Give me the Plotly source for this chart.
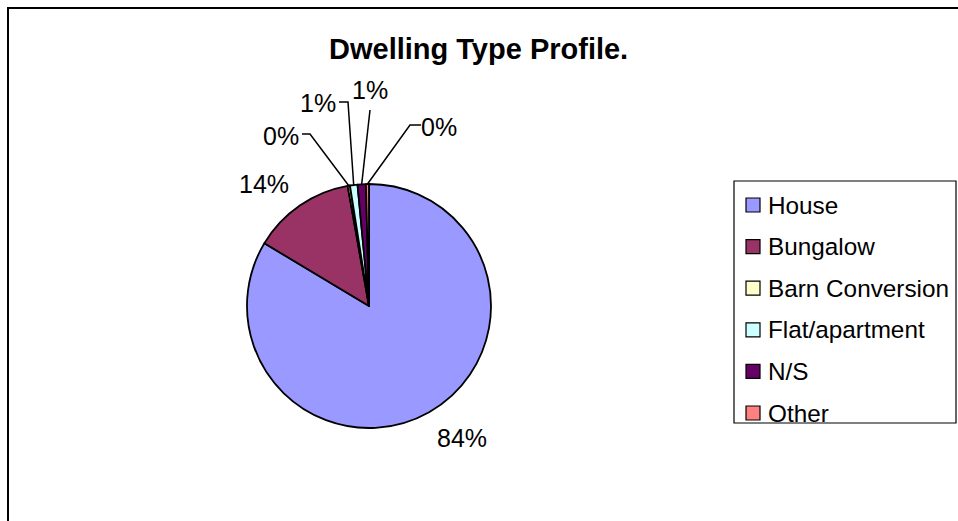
import math
import plotly.graph_objects as go

# Dwelling types and respondent counts
categories = ["House", "Bungalow", "Barn Conversion", "Flat/apartment", "N/S", "Other"]
counts = [836, 136, 3, 10, 11, 4]
colors = ["#9999FF", "#993366", "#FFFFCC", "#CCFFFF", "#660066", "#FF8080"]

TITLE = "Dwelling Type Profile."
FONT = "Liberation Sans, Arial, sans-serif"

# Canvas and pie geometry (pixels)
W, H = 958, 521
CX, CY, R = 369, 306, 122

# Label centres and leader-line routing (label-side anchor, optional elbow)
label_pos = [(462, 438), (264, 184), (281, 136), (318, 103), (370, 90), (439, 127)]
leaders = [None, None,
           [(302, 134), (310, 134)],
           [(339, 102), (348, 102)],
           [(370, 110)],
           [(421, 125), (410, 125)]]

total = sum(counts)
pct = [c / total for c in counts]
pct_text = [f"{int(p * 100 + 0.5)}%" for p in pct]

fig = go.Figure()

fig.add_trace(go.Pie(
    labels=categories,
    values=counts,
    sort=False,
    direction="clockwise",
    rotation=0,
    textinfo="none",
    hoverinfo="label+percent",
    marker=dict(colors=colors, line=dict(color="black", width=1.8)),
    domain=dict(x=[(CX - R) / W, (CX + R) / W],
                y=[(H - CY - R) / H, (H - CY + R) / H]),
    showlegend=False,
))

shapes = []
annotations = []

# outer chart frame
shapes.append(dict(type="rect", xref="x", yref="y", x0=8, y0=8, x1=W + 20, y1=H + 20,
                   line=dict(color="black", width=2), fillcolor="rgba(0,0,0,0)"))

# percentage labels and leader lines
cum = 0.0
for i, p in enumerate(pct):
    mid = (cum + p / 2) * 2 * math.pi
    cum += p
    rim = (CX + R * math.sin(mid), CY - R * math.cos(mid))
    lx, ly = label_pos[i]
    annotations.append(dict(x=lx, y=ly, xref="x", yref="y", text=pct_text[i],
                            showarrow=False, font=dict(family=FONT, size=25, color="black")))
    if leaders[i]:
        pts = leaders[i] + [rim]
        path = "M " + " L ".join(f"{x:.1f},{y:.1f}" for x, y in pts)
        shapes.append(dict(type="path", xref="x", yref="y", path=path,
                           line=dict(color="black", width=1.5)))

# legend box
LX0, LY0, LX1, LY1 = 734, 181, 956, 423
shapes.append(dict(type="rect", xref="x", yref="y", x0=LX0, y0=LY0, x1=LX1, y1=LY1,
                   line=dict(color="black", width=1.2), fillcolor="white", layer="below"))
row0, pitch = 205, 41.6
for i, name in enumerate(categories):
    yc = row0 + i * pitch
    shapes.append(dict(type="rect", xref="x", yref="y", x0=746, y0=yc - 7, x1=760, y1=yc + 7,
                       line=dict(color="black", width=1.2), fillcolor=colors[i]))
    annotations.append(dict(x=766, y=yc, xref="x", yref="y", text=name, xanchor="left",
                            showarrow=False, font=dict(family=FONT, size=24.3, color="black")))

# title, centred on the chart frame
annotations.append(dict(x=478, y=49, xref="x", yref="y", text=f"<b>{TITLE}</b>",
                        xanchor="center", showarrow=False,
                        font=dict(family=FONT, size=29, color="black")))

fig.update_layout(
    width=W, height=H,
    margin=dict(l=0, r=0, t=0, b=0),
    paper_bgcolor="white", plot_bgcolor="rgba(0,0,0,0)",
    xaxis=dict(range=[0, W], visible=False, fixedrange=True),
    yaxis=dict(range=[H, 0], visible=False, fixedrange=True),
    shapes=shapes,
    annotations=annotations,
    showlegend=False,
)

fig.write_html("out.html")
